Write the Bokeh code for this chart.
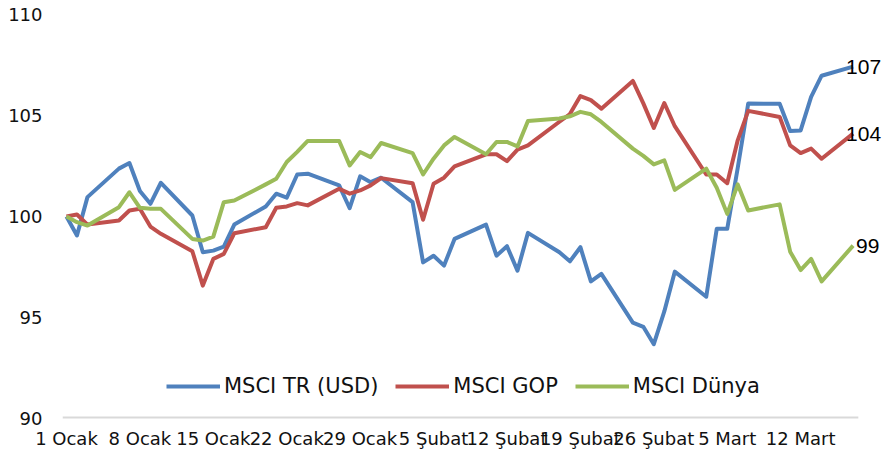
import pandas as pd
from bokeh.plotting import figure
from bokeh.models import (ColumnDataSource, FixedTicker, Legend, LegendItem,
                          LabelSet, Range1d)
from bokeh.core.properties import value
from bokeh.embed import file_html
from bokeh.resources import INLINE

# ---------------- data ----------------
start_date = "2014-01-01"
end_date = "2014-03-17"
dates = pd.bdate_range(start_date, end_date)

series_names = ["MSCI TR (USD)", "MSCI GOP", "MSCI Dünya"]
series_colors = ["#4F81BD", "#C0504D", "#9BBB59"]

msci_tr = [100.0, 99.06, 100.96, 102.37, 102.65, 101.26, 100.63, 101.67,
           100.05, 98.23, 98.31, 98.51, 99.60, 100.50, 101.13, 100.93,
           102.08, 102.12, 101.54, 100.41, 101.99, 101.70, 101.92,
           100.71, 97.73, 98.06, 97.57, 98.89, 99.60, 98.06, 98.53, 97.32,
           99.19, 98.23, 97.78, 98.48, 96.79, 97.16, 94.75, 94.54, 93.68,
           95.30, 97.27, 96.03, 99.39, 99.39, 102.40, 105.59, 105.58,
           104.23, 104.26, 105.92, 106.97, 107.42]
msci_gop = [100.0, 100.10, 99.60, 99.80, 100.30, 100.38, 99.50, 99.14,
            98.28, 96.58, 97.90, 98.15, 99.17, 99.47, 100.43, 100.50,
            100.66, 100.55, 101.37, 101.13, 101.29, 101.54, 101.90,
            101.65, 99.84, 101.62, 101.92, 102.48, 103.08, 103.08, 102.74,
            103.31, 103.52, 104.69, 105.07, 105.96, 105.76, 105.34, 106.71,
            105.60, 104.38, 105.62, 104.47, 102.08, 102.08, 101.65, 103.77,
            105.23, 104.93, 103.52, 103.14, 103.36, 102.86, 104.10]
msci_dunya = [100.0, 99.72, 99.55, 100.46, 101.20, 100.43, 100.38, 100.38,
              98.89, 98.81, 99.00, 100.71, 100.79, 101.59, 101.87, 102.70,
              103.20, 103.74, 103.74, 102.53, 103.19, 102.94, 103.64,
              103.14, 102.08, 102.86, 103.52, 103.94, 103.08, 103.69,
              103.69, 103.47, 104.73, 104.85, 104.96, 105.18, 105.06,
              104.68, 103.36, 103.00, 102.58, 102.78, 101.32, 102.37,
              101.42, 100.13, 101.59, 100.30, 100.60, 98.26, 97.35, 97.90,
              96.79, 98.56]

tick_dates = ["2014-01-01", "2014-01-08", "2014-01-15", "2014-01-22",
              "2014-01-29", "2014-02-05", "2014-02-12", "2014-02-19",
              "2014-02-26", "2014-03-05", "2014-03-12"]
tick_labels = ["1 Ocak", "8 Ocak", "15 Ocak", "22 Ocak", "29 Ocak",
               "5 Şubat", "12 Şubat", "19 Şubat", "26 Şubat", "5 Mart",
               "12 Mart"]
y_ticks = [90, 95, 100, 105, 110]

# ---------------- derived ----------------
t0 = pd.Timestamp(start_date)
days = [(d - t0).days for d in dates]
tick_days = [(pd.Timestamp(d) - t0).days for d in tick_dates]
all_series = [msci_tr, msci_gop, msci_dunya]

FONT = "DejaVu Sans"
X_START = -0.38
AXIS_END = days[-1] + 0.5
Y_MIN, Y_MAX = 90, 110

p = figure(width=883, height=463,
           x_range=Range1d(X_START, 77.9), y_range=Range1d(Y_MIN, Y_MAX),
           output_backend="svg", toolbar_location=None,
           min_border_left=62, min_border_right=0,
           min_border_top=14, min_border_bottom=45)
p.outline_line_color = None
p.background_fill_color = "white"
p.border_fill_color = "white"
p.xgrid.visible = False
p.ygrid.visible = False

yax = p.yaxis[0]
yax.ticker = FixedTicker(ticks=y_ticks)
yax.axis_line_color = None
yax.major_tick_line_color = None
yax.minor_tick_line_color = None
yax.major_tick_out = 0
yax.major_tick_in = 0
yax.major_label_standoff = 20
yax.major_label_text_font = FONT
yax.major_label_text_font_size = "18px"
yax.major_label_text_color = "#111111"

xax = p.xaxis[0]
xax.ticker = FixedTicker(ticks=tick_days)
xax.major_label_overrides = {d: lab for d, lab in zip(tick_days, tick_labels)}
xax.axis_line_color = None
xax.major_tick_line_color = None
xax.minor_tick_line_color = None
xax.major_tick_out = 0
xax.major_tick_in = 0
xax.major_label_standoff = 9
xax.major_label_text_font = FONT
xax.major_label_text_font_size = "18px"
xax.major_label_text_color = "#111111"

# horizontal category-axis baseline (stops at the end of the data area)
p.segment(x0=[X_START], y0=[Y_MIN], x1=[AXIS_END], y1=[Y_MIN],
          line_color="#D9D9D9", line_width=4)

items = []
for name, col, vals in zip(series_names, series_colors, all_series):
    r = p.line(days, vals, line_color=col, line_width=4, line_join="round")
    items.append(LegendItem(label=name, renderers=[r]))

legend = Legend(items=items, location=(104, 20), orientation="horizontal",
                glyph_width=54, glyph_height=20, label_standoff=4, spacing=17,
                padding=0, margin=0, border_line_color=None,
                background_fill_alpha=0, label_text_font=FONT,
                label_text_font_size="21px", label_text_color="#111111")
p.add_layout(legend)

last_vals = [s[-1] for s in all_series]
end_src = ColumnDataSource(dict(
    x=[days[-1]] * 3,
    y=last_vals,
    text=[f"{round(v):d}" for v in last_vals],
    dx=[-7, -7, 3],
))
labels = LabelSet(x="x", y="y", text="text", x_offset="dx", source=end_src,
                  text_baseline="middle", text_align="left",
                  text_font=value("Liberation Sans"),
                  text_font_size=value("21px"),
                  text_color="#000000")
p.add_layout(labels)

open("out.html", "w").write(file_html(p, INLINE))
